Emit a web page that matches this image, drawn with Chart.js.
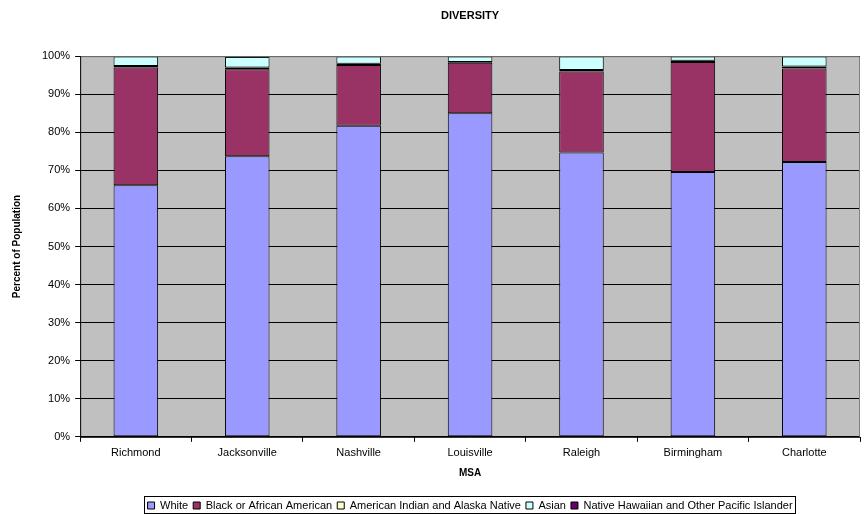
<!DOCTYPE html>
<html>
<head>
<meta charset="utf-8">
<script src="https://cdn.jsdelivr.net/npm/chart.js@4/dist/chart.umd.min.js"></script>
<style>
  html, body { margin:0; padding:0; background:#fff; }
  #wrap { width:866px; height:514px; }
</style>
</head>
<body>
<div id="wrap"><canvas id="diversityChart" width="866" height="514"></canvas></div>
<script>
// MSA categories and percent of population per group
const msaNames = ["Richmond","Jacksonville","Nashville","Louisville","Raleigh","Birmingham","Charlotte"];
const whitePct = [66.1, 73.7, 81.7, 85.0, 74.7, 69.6, 72.2];
const blackPct = [30.9, 22.9, 16.0, 13.3, 21.3, 28.9, 24.6];
const amIndianPct = [0.4, 0.4, 0.3, 0.2, 0.4, 0.3, 0.5];
const asianPct = [2.5, 2.8, 1.9, 1.4, 3.5, 1.1, 2.6];
const hawaiianPct = [0.1, 0.2, 0.1, 0.1, 0.1, 0.1, 0.1];
const yTicks = [0,10,20,30,40,50,60,70,80,90,100];

const fontFamily = "'Liberation Sans', Arial, sans-serif";

// gray plot background + gray frame, drawn like the old excel charts
const plotBackground = {
    id:"plotBackground",
    beforeDraw(chart){
        const {ctx, chartArea:a} = chart;
        ctx.save();
        ctx.fillStyle = "#C0C0C0";
        ctx.fillRect(a.left, a.top, a.right - a.left, a.bottom - a.top);
        ctx.restore();
    },
    afterDatasetsDraw(chart){
        const {ctx, chartArea:a} = chart;
        ctx.save();
        ctx.strokeStyle = "#808080";
        ctx.lineWidth = 1;
        ctx.beginPath();
        ctx.moveTo(a.left, a.top + 0.5);
        ctx.lineTo(a.right - 0.5, a.top + 0.5);
        ctx.lineTo(a.right - 0.5, a.bottom);
        ctx.stroke();
        ctx.strokeStyle = "#000";
        ctx.beginPath();
        ctx.moveTo(a.left + 0.5, a.top);
        ctx.lineTo(a.left + 0.5, a.bottom + 0.5);
        ctx.lineTo(a.right, a.bottom + 0.5);
        ctx.stroke();
        ctx.restore();
    }
};

// box around the legend items
const legendFrame = {
    id:"legendFrame",
    afterDraw(chart){
        const lg = chart.legend;
        if(!lg || !lg.legendHitBoxes || !lg.legendHitBoxes.length){
            return;
        }
        const boxes = lg.legendHitBoxes;
        let left = Infinity, right = -Infinity, top = Infinity, bottom = -Infinity;
        boxes.forEach(b => {
            left = Math.min(left, b.left);
            right = Math.max(right, b.left + b.width);
            top = Math.min(top, b.top);
            bottom = Math.max(bottom, b.top + b.height);
        });
        const ctx = chart.ctx;
        ctx.save();
        ctx.strokeStyle = "#000";
        ctx.lineWidth = 1;
        ctx.strokeRect(Math.round(left) - 3.5, Math.round(top) - 3.5, Math.round(right - left) + 6, Math.round(bottom - top) + 6);
        ctx.restore();
    }
};

function makeSet(label, data, color){
    return {
        label:label,
        data:data,
        backgroundColor:color,
        borderColor:"#000",
        borderWidth:1,
        borderSkipped:false,
        barPercentage:0.4,
        categoryPercentage:1.0
    };
}

new Chart(document.getElementById("diversityChart"),{
    type:"bar",
    data:{
        labels:msaNames,
        datasets:[
            makeSet("White", whitePct, "#9999FF"),
            makeSet("Black or African American", blackPct, "#993366"),
            makeSet("American Indian and Alaska Native", amIndianPct, "#FFFFCC"),
            makeSet("Asian", asianPct, "#CCFFFF"),
            makeSet("Native Hawaiian and Other Pacific Islander", hawaiianPct, "#660066")
        ]
    },
    options:{
        responsive:false,
        animation:false,
        devicePixelRatio:1,
        layout:{ padding:{ left:11, right:6, top:9, bottom:-7 } },
        plugins:{
            title:{
                display:true,
                text:"DIVERSITY",
                fullSize:false,
                color:"#000",
                font:{ family:fontFamily, size:11, weight:"bold" },
                padding:{ top:0, bottom:34 }
            },
            legend:{
                position:"bottom",
                fullSize:false,
                labels:{
                    color:"#000",
                    font:{ family:fontFamily, size:11 },
                    boxWidth:7,
                    boxHeight:7,
                    padding:5
                }
            },
            tooltip:{ enabled:false }
        },
        scales:{
            x:{
                stacked:true,
                grid:{
                    offset:true,
                    drawOnChartArea:false,
                    drawTicks:true,
                    tickLength:5,
                    color:"#000"
                },
                border:{ display:false },
                ticks:{ color:"#000", font:{ family:fontFamily, size:11 }, padding:5, maxRotation:0 },
                title:{
                    display:true,
                    text:"MSA",
                    color:"#000",
                    font:{ family:fontFamily, size:10, weight:"bold" },
                    padding:{ top:2, bottom:16 }
                }
            },
            y:{
                stacked:true,
                min:0,
                max:100,
                afterBuildTicks(axis){
                    axis.ticks = yTicks.map(v => ({ value:v }));
                },
                grid:{
                    color:"#000",
                    tickLength:5,
                    drawTicks:true
                },
                border:{ display:false },
                ticks:{
                    color:"#000",
                    font:{ family:fontFamily, size:11 },
                    padding:5,
                    callback:v => v + "%"
                },
                title:{
                    display:true,
                    text:"Percent of Population",
                    color:"#000",
                    font:{ family:fontFamily, size:10, weight:"bold" },
                    padding:{ top:0, bottom:14 }
                }
            }
        }
    },
    plugins:[plotBackground, legendFrame]
});
</script>
</body>
</html>
